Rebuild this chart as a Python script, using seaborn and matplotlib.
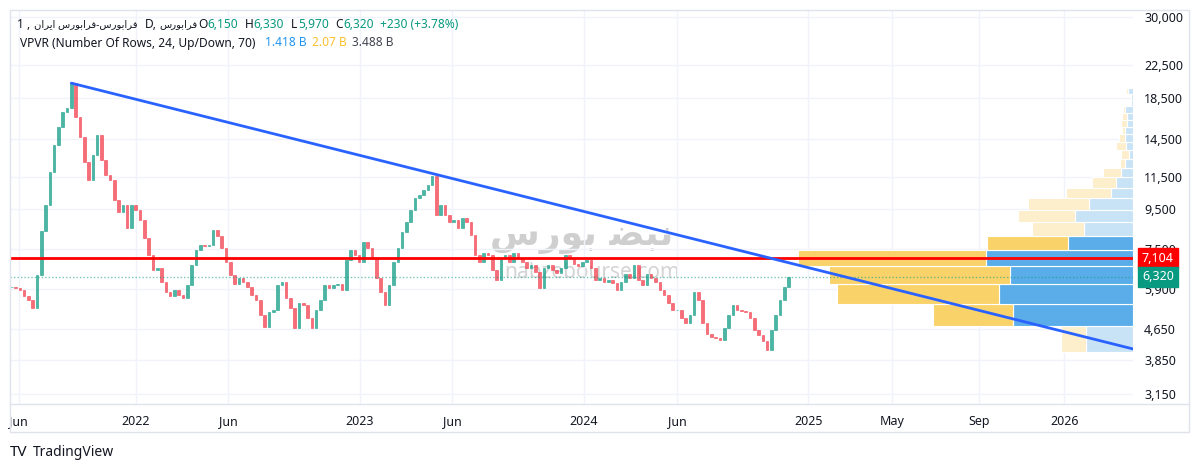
import numpy as np
import pandas as pd
import matplotlib
matplotlib.use("Agg")
import matplotlib.pyplot as plt
import matplotlib.dates as mdates
from matplotlib.lines import Line2D
from matplotlib.patches import Rectangle
from matplotlib.ticker import FixedLocator, NullLocator
import seaborn as sns

# weekly closes (first week starts 2021-06-12)
first_week = "2021-06-12"
closes = [5970, 5940, 5860, 5650, 5520, 5260, 6400, 8320, 9740, 11900,
          13950, 15560, 17000, 17430, 20200, 16500, 14660, 12600, 11320, 13140,
          14800, 12750, 11680, 11320, 10040, 9350, 9740, 8490, 9740, 9460,
          8910, 7990, 7220, 6610, 6680, 6140, 5800, 5640, 5860, 5690,
          5580, 6030, 6810, 7440, 7670, 7630, 7670, 8390, 8090, 7540,
          6930, 6400, 6080, 6300, 6160, 5950, 5690, 5520, 5040, 4700,
          5150, 5200, 6030, 6160, 5580, 5260, 4660, 5430, 5370, 4960,
          4660, 5200, 5520, 6030, 5920, 6030, 6080, 5860, 7010, 7440,
          7220, 6930, 7810, 7540, 7090, 6300, 5800, 5370, 6030, 6930,
          7540, 8290, 8800, 9460, 10160, 10340, 10660, 10990, 11600, 9180,
          9740, 9180, 8800, 8910, 8490, 9020, 8800, 8140, 7220, 6930,
          7310, 7220, 6610, 6220, 7090, 7220, 6930, 7310, 7090, 6930,
          6680, 6800, 6540, 5920, 6680, 6800, 6610, 6470, 6680, 7220,
          7090, 6850, 6770, 6930, 7010, 6680, 6220, 6300, 6160, 6220,
          6120, 5860, 6160, 6440, 6300, 6800, 6220, 6030, 6440, 6300,
          6160, 5860, 5690, 5430, 5200, 5200, 4960, 4820, 5040, 5800,
          5520, 4820, 4500, 4420, 4390, 4350, 4660, 5040, 5370, 5200,
          5170, 5150, 4960, 4610, 4470, 4320, 4095, 4610, 5040, 5520,
          5950, 6320]

# VPVR: 24 price rows from low to high, volumes in millions
row_low, row_high = 4050, 20290
up_vol = [86, 217, 243, 224, 266, 118, 89, 105, 79, 40, 31, 21,
          14, 8, 12, 15, 14, 11, 10, 15, 3, 4, 9, 1]
down_vol = [44, 146, 293, 328, 341, 146, 94, 103, 111, 82, 44, 33,
            10, 13, 18, 10, 6, 10, 10, 4, 0, 0, 4, 3]
value_area = [1, 2, 3, 4, 5]

resistance = 7104
last_close = 6320
trend_dates = ["2021-09-18", "2026-04-09"]
trend_prices = [20200, 4120]

price_ticks = [30000, 22500, 18500, 14500, 11500, 9500, 7500, 5900, 4650, 3850, 3150]
time_ticks = ["2021-06-24", "2022-01-01", "2022-06-01", "2023-01-01", "2023-06-01",
              "2024-01-01", "2024-06-01", "2025-01-01", "2025-05-01", "2025-09-01",
              "2026-01-01"]
time_labels = ["Jun", "2022", "Jun", "2023", "Jun", "2024", "Jun", "2025", "May", "Sep", "2026"]

UP, DOWN, DARK = "#089981", "#F23645", "#131722"

sns.set_theme(style="white")
plt.rcParams["font.family"] = ["Noto Sans", "DejaVu Sans"]

W, H = 1200, 470
fig = plt.figure(figsize=(12, 4.7), dpi=100)
ax = fig.add_axes([10 / W, 1 - 404 / H, 1123 / W, 394 / H])

# TradingView spaces the empty future part wider than the history part
brk = mdates.date2num(pd.Timestamp("2025-01-01"))
stretch = 1.143


def fwd(v):
    v = np.asarray(v, float)
    return np.where(v <= brk, v, brk + (v - brk) * stretch)


def inv(v):
    v = np.asarray(v, float)
    return np.where(v <= brk, v, brk + (v - brk) / stretch)


ax.set_xscale("function", functions=(fwd, inv))
ax.set_yscale("log")

df = pd.DataFrame({"close": closes})
df["date"] = mdates.date2num(pd.date_range(first_week, periods=len(df), freq="7D"))
df["open"] = df["close"].shift(1).fillna(df["close"].iloc[0])
df["lo"] = df[["open", "close"]].min(axis=1)
df["hi"] = df[["open", "close"]].max(axis=1)
df["color"] = np.where(df["close"] >= df["open"], UP, DOWN)

# watermark
ax.text(582 / W, 1 - 237 / H, "\uFEB1\uFEAD\uFEEE\uFE91 \uFEC0\uFE92\uFEE7",
        transform=fig.transFigure, fontsize=26, fontweight="bold", color="#CFCFCF",
        family="DejaVu Sans", ha="center", va="center", zorder=0)
ax.text(592 / W, 1 - 272 / H, "nabzebourse.com", transform=fig.transFigure,
        fontsize=15, color="#D4D4D4", ha="center", va="center", zorder=0)

ax.bar(df["date"], df["hi"] - df["lo"], bottom=df["lo"], width=4.2,
       color=df["color"], edgecolor=df["color"], linewidth=0.5, alpha=0.72, zorder=2)

# volume profile anchored to the right edge
edges = np.linspace(row_low, row_high, len(up_vol) + 1)
tot = np.array(up_vol) + np.array(down_vol)
scale = 0.298 / tot.max()
for i in range(len(up_vol)):
    strong = i in value_area
    cu = "#5AADE8" if strong else "#C8E3F6"
    cd = "#F9D36A" if strong else "#FDEFCB"
    h = edges[i + 1] - edges[i]
    u, d = up_vol[i] * scale, down_vol[i] * scale
    ax.barh(edges[i], u, left=1 - u, height=h, align="edge", color=cu,
            edgecolor="white", linewidth=0.8, transform=ax.get_yaxis_transform(), zorder=3)
    ax.barh(edges[i], d, left=1 - u - d, height=h, align="edge", color=cd,
            edgecolor="white", linewidth=0.8, transform=ax.get_yaxis_transform(), zorder=3)

ax.axhline(resistance, color="#FF0000", lw=2, zorder=5)
ax.axhline(last_close, color=UP, lw=1, ls=(0, (1, 1.5)), alpha=0.55, zorder=4)

trend = pd.DataFrame({"x": mdates.date2num(pd.to_datetime(trend_dates)), "y": trend_prices})
sns.lineplot(data=trend, x="x", y="y", ax=ax, color="#2962FF", lw=2, zorder=6)

ax.set_xlim(mdates.date2num(pd.Timestamp("2021-06-10")), mdates.date2num(pd.Timestamp("2026-04-09")))
ax.set_ylim(2964, 31285)
ax.set_xlabel("")
ax.set_ylabel("")

ax.yaxis.tick_right()
ax.yaxis.set_major_locator(FixedLocator(price_ticks))
ax.yaxis.set_minor_locator(NullLocator())
ax.set_yticklabels([f"{v:,}" for v in price_ticks], fontsize=9, color=DARK)
ax.xaxis.set_major_locator(FixedLocator(mdates.date2num(pd.to_datetime(time_ticks))))
ax.xaxis.set_minor_locator(NullLocator())
ax.set_xticklabels(time_labels, fontsize=9, color=DARK)
for lab in ax.get_xticklabels():
    if lab.get_text().isdigit():
        lab.set_fontweight("bold")
ax.tick_params(axis="both", length=0)
ax.tick_params(axis="y", pad=8)
ax.tick_params(axis="x", pad=8)
ax.grid(True, color="#F0F3FA", lw=1)
ax.set_axisbelow(True)
for s in ax.spines.values():
    s.set_visible(False)

# frame
fc = "#E0E3EB"
fig.add_artist(Rectangle((10 / W, 1 - 432 / H), 1179 / W, 422 / H, transform=fig.transFigure,
                         fill=False, edgecolor=fc, lw=1))
fig.add_artist(Line2D([10 / W, 1189 / W], [1 - 404 / H] * 2, transform=fig.transFigure, color=fc, lw=1))

# price labels on the scale
for price, col, yy in [(resistance, "#FF0000", 258), (last_close, UP, 277)]:
    fig.text(1142 / W, 1 - yy / H, f"{price:,}", color="white", fontsize=9, fontweight="bold",
             va="center", ha="left",
             bbox=dict(boxstyle="square,pad=0.3", fc=col, ec=col))


# header
def put(x, y, s, color, size=8.6, **kw):
    fig.text(x / W, 1 - y / H, s, color=color, fontsize=size, va="center", ha="left", **kw)


faraborse = "\uFEB1\uFEAD\uFEEE\uFE91\uFE8D\uFEAE\uFED3"
iran = "\uFEE5\uFE8D\uFEAE\uFEF3\uFE8D"
put(17, 25, "1 ,", DARK)
put(34, 25, iran + " " + faraborse + "-" + faraborse, DARK, size=7.2)
put(145, 25, "D,", DARK)
put(159, 25, faraborse, DARK, size=7.2)
for x, s, c in [(198, "O", DARK), (207, "6,150", UP), (245, "H", DARK), (253, "6,330", UP),
                (291, "L", DARK), (298, "5,970", UP), (335, "C", DARK), (343, "6,320", UP),
                (380, "+230 (+3.78%)", UP)]:
    put(x, 25, s, c)
for x, s, c in [(20, "VPVR (Number Of Rows, 24, Up/Down, 70)", DARK), (265, "1.418 B", "#2196F3"),
                (312, "2.07 B", "#FBC02D"), (352, "3.488 B", "#434651")]:
    put(x, 43, s, c)

put(10, 452, "TV", DARK, size=11, fontweight="black")
put(33, 452, "TradingView", DARK, size=10)

fig.savefig("out.png", dpi=100, facecolor="white")
